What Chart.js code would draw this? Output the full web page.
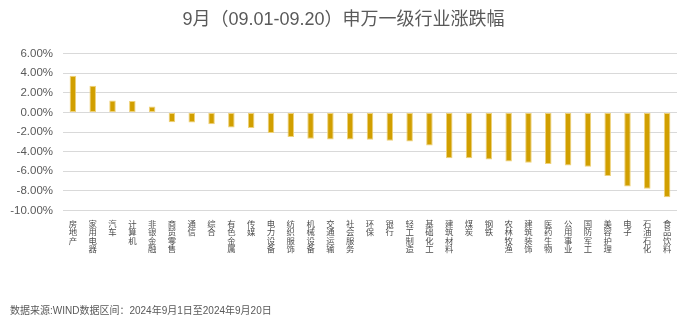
<!DOCTYPE html>
<html>
<head>
<meta charset="utf-8">
<script src="https://cdn.jsdelivr.net/npm/chart.js@4/dist/chart.umd.min.js"></script>
<style>
  html, body { margin: 0; padding: 0; background: #ffffff; }
  #wrap { width: 692px; height: 322px; position: relative; }
</style>
</head>
<body>
<div id="wrap"><canvas id="chart" width="692" height="322"></canvas></div>
<script>
// 申万一级行业 9月1日-9月20日 涨跌幅（%）
const industries = [
  '房地产', '家用电器', '汽车', '计算机', '非银金融', '商贸零售', '通信', '综合',
  '有色金属', '传媒', '电力设备', '纺织服饰', '机械设备', '交通运输', '社会服务', '环保',
  '银行', '轻工制造', '基础化工', '建筑材料', '煤炭', '钢铁', '农林牧渔', '建筑装饰',
  '医药生物', '公用事业', '国防军工', '美容护理', '电子', '石油石化', '食品饮料'
];
const changePct = [
  3.73, 2.71, 1.22, 1.16, 0.60, -1.00, -1.02, -1.22,
  -1.55, -1.60, -2.09, -2.50, -2.70, -2.77, -2.77, -2.78,
  -2.90, -2.98, -3.38, -4.67, -4.68, -4.80, -5.00, -5.14,
  -5.27, -5.41, -5.55, -6.50, -7.57, -7.78, -8.66
];
const yMin = -10, yMax = 6, yStep = 2;

const titleText = '9月（09.01-09.20）申万一级行业涨跌幅';
const sourceText = '数据来源:WIND数据区间：2024年9月1日至2024年9月20日';

const FONT = '"Liberation Sans", Arial, "Noto Sans CJK SC", sans-serif';
const GREY = '#595959';

// category names are stacked vertically, one character per line
const stackedLabels = industries.map(s => Array.from(s));

new Chart(document.getElementById('chart'), {
  type: 'bar',
  data: {
    labels: stackedLabels,
    datasets: [{
      data: changePct,
      backgroundColor: '#D19F00',
      borderColor: '#EFD27A',
      borderWidth: 1,
      borderSkipped: false,
      categoryPercentage: 1,
      barPercentage: 0.33
    }]
  },
  options: {
    responsive: false,
    animation: false,
    layout: { padding: { left: 10, right: 15, top: 0, bottom: 0 } },
    plugins: {
      legend: { display: false },
      tooltip: { enabled: false },
      title: {
        display: true,
        text: titleText,
        color: GREY,
        font: { family: FONT, size: 18, weight: 'normal' },
        padding: { top: 9, bottom: 23 }
      },
      subtitle: {
        display: true,
        text: sourceText,
        position: 'bottom',
        align: 'start',
        color: GREY,
        font: { family: FONT, size: 10, weight: 'normal' },
        padding: { top: 41, bottom: 5 }
      }
    },
    scales: {
      x: {
        grid: { display: false, drawTicks: false },
        border: { display: false },
        ticks: {
          color: '#4D4D4D',
          font: { family: FONT, size: 8.4, lineHeight: 1.0 },
          padding: 10,
          maxRotation: 0,
          minRotation: 0,
          autoSkip: false
        }
      },
      y: {
        min: yMin,
        max: yMax,
        afterFit: s => { s.width = 53; },
        grid: { color: '#D9D9D9', lineWidth: 1, drawTicks: false },
        border: { display: false },
        ticks: {
          stepSize: yStep,
          color: GREY,
          padding: 10,
          font: { family: FONT, size: 11.5 },
          callback: v => v.toFixed(2) + '%'
        }
      }
    }
  }
});
</script>
</body>
</html>
